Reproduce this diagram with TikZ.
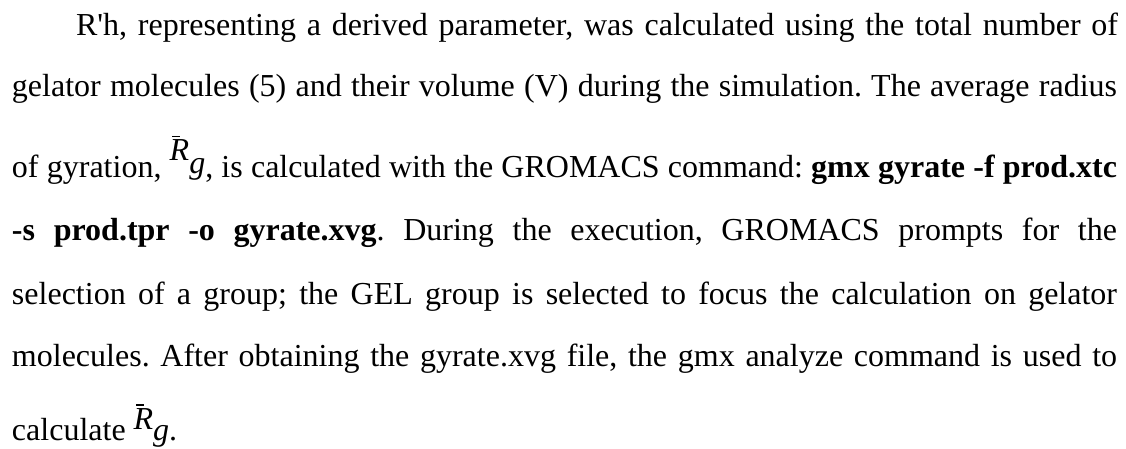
\documentclass[tikz,border=0pt]{standalone}
\usepackage{fontspec}
\setmainfont{Liberation Serif}[Ligatures={TeXOff,CommonOff}]
\frenchspacing
% #1 raise of R, #2 raise of g
\newcommand{\myRg}[2]{\mbox{\raisebox{#1}{\makebox[0pt][l]{\hspace{2.5pt}\rule[23.5pt]{8pt}{1.3pt}}\textit{R}}\raisebox{#2}{\textit{g}}}}
\tikzset{
  txtline/.style={anchor=base west, inner sep=0pt, outer sep=0pt, font=\fontsize{32pt}{38pt}\selectfont}
}
\begin{document}
\begin{tikzpicture}[x=1pt,y=1pt]
\useasboundingbox (0,0) rectangle (1126,-449);
\node[txtline] (l1) at (76,-36) {\makebox[1042pt][s]{R'h, representing a derived parameter, was calculated using the total number of}};
\node[txtline] (l2) at (12,-97) {\makebox[1105pt][s]{gelator molecules (5) and their volume (V) during the simulation. The average radius}};
\node[txtline] (l3) at (12,-178) {\makebox[1105pt][s]{of gyration, \myRg{17pt}{4pt}, is calculated with the GROMACS command: \textbf{gmx gyrate -f prod.xtc}}};
\node[txtline] (l4) at (12,-240) {\makebox[1105pt][s]{\textbf{-s prod.tpr -o gyrate.xvg}. During the execution, GROMACS prompts for the}};
\node[txtline] (l5) at (12,-304) {\makebox[1105pt][s]{selection of a group; the GEL group is selected to focus the calculation on gelator}};
\node[txtline] (l6) at (12,-366) {\makebox[1105pt][s]{molecules. After obtaining the gyrate.xvg file, the gmx analyze command is used to}};
\node[txtline] (l7) at (12,-440) {calculate \myRg{11pt}{0pt}.};
\end{tikzpicture}
\end{document}
